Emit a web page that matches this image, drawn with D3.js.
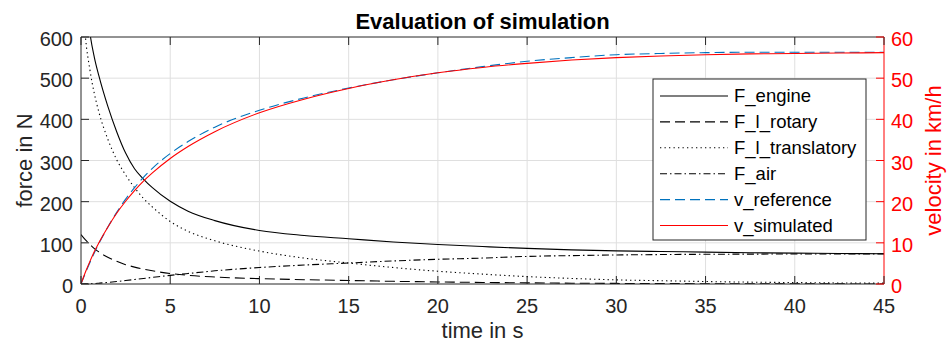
<!DOCTYPE html>
<html>
<head>
<meta charset="utf-8">
<script src="https://cdn.jsdelivr.net/npm/d3@7"></script>
<style>
    body { margin: 0; background: #fff; }
    svg { display: block; font-family: "Liberation Sans", Arial, sans-serif; }
</style>
</head>
<body>
<div id="chart-container"></div>
<script>
// time samples in s
const time = [0, 0.25, 0.5, 0.75, 1, 1.5, 2, 2.5, 3, 3.5, 4, 5, 6, 7.5, 10, 12.5, 15, 17.5, 20, 22.5, 25, 27.5, 30, 32.5, 35, 37.5, 40, 42.5, 45];

// forces in N (left axis)
const fEngine = [880, 715, 610, 550, 506, 432, 370, 318, 280, 255, 234, 201, 177, 154, 130, 118, 110, 102, 96, 91, 86.5, 83, 80.5, 79, 77.5, 76, 75, 74, 73.5];
const fRotary = [120, 107, 96, 86, 78, 65, 55, 47, 41, 36, 32, 25.5, 21, 17, 13, 10.5, 8.5, 6.5, 5, 3.8, 2.8, 2, 1.4, 1, 0.7, 0.5, 0.3, 0.2, 0.1];
const fTranslatory = [760, 600, 520, 462, 418, 352, 302, 265, 234, 208, 187, 152, 128, 105, 80, 63, 51, 40, 31, 24, 18, 13.5, 10, 8, 6, 4.5, 3.5, 2.5, 2];
const fAir = [0, 0.2, 0.6, 1.2, 2, 3.8, 6, 8.5, 11, 13.5, 16, 21, 25.5, 32, 40, 46, 51, 56, 60, 63, 67, 69, 70.5, 71.5, 72.2, 72.6, 72.9, 73.1, 73.3];

// velocities in km/h (right axis)
const vReference = [0, 2.7, 5.2, 7.6, 9.8, 13.8, 17.4, 20.6, 23.4, 25.9, 28.1, 31.7, 34.6, 38.1, 42.2, 45.2, 47.6, 49.6, 51.3, 52.8, 54.1, 55.0, 55.7, 56.0, 56.2, 56.3, 56.3, 56.3, 56.3];
const vSimulated = [0, 2.9, 5.5, 7.9, 10, 13.8, 17.2, 20.1, 22.7, 25, 27, 30.5, 33.4, 37, 41.6, 44.9, 47.5, 49.6, 51.3, 52.6, 53.6, 54.4, 55.0, 55.4, 55.7, 55.9, 56.0, 56.1, 56.2];

const xTicks = [0, 5, 10, 15, 20, 25, 30, 35, 40, 45];
const forceTicks = [0, 100, 200, 300, 400, 500, 600];
const velocityTicks = [0, 10, 20, 30, 40, 50, 60];

const seriesNames = ["F_engine", "F_l_rotary", "F_l_translatory", "F_air", "v_reference", "v_simulated"];

document.addEventListener('DOMContentLoaded', function () {
    drawChart(document.getElementById('chart-container'));
});

function drawChart(container) {
    const width = 947, height = 342;
    const margin = { top: 37, right: 63, bottom: 58, left: 81 };
    const innerW = width - margin.left - margin.right;
    const innerH = height - margin.top - margin.bottom;
    const axisColor = '#262626';
    const gridColor = '#dfdfdf';
    const tickLen = 8;

    const svg = d3.select(container).append('svg')
        .attr('width', width)
        .attr('height', height);

    const x = d3.scaleLinear().domain([0, 45]).range([0, innerW]);
    const yF = d3.scaleLinear().domain([0, 600]).range([innerH, 0]);
    const yV = d3.scaleLinear().domain([0, 60]).range([innerH, 0]);

    svg.append('defs').append('clipPath').attr('id', 'plot-clip')
        .append('rect').attr('width', innerW).attr('height', innerH);

    const g = svg.append('g').attr('transform', `translate(${margin.left},${margin.top})`);

    // grid
    g.append('g').selectAll('line.vgrid').data(xTicks.slice(1, -1)).enter().append('line')
        .attr('x1', d => x(d)).attr('x2', d => x(d))
        .attr('y1', 0).attr('y2', innerH)
        .style('stroke', gridColor).style('stroke-width', 1);
    g.append('g').selectAll('line.hgrid').data(forceTicks.slice(1, -1)).enter().append('line')
        .attr('x1', 0).attr('x2', innerW)
        .attr('y1', d => yF(d)).attr('y2', d => yF(d))
        .style('stroke', gridColor).style('stroke-width', 1);

    // series
    const specs = [
        { values: fEngine, scale: yF, color: '#000', dash: null },
        { values: fRotary, scale: yF, color: '#000', dash: '10,5' },
        { values: fTranslatory, scale: yF, color: '#000', dash: '1.3,3.2' },
        { values: fAir, scale: yF, color: '#000', dash: '7,3,1.5,3' },
        { values: vReference, scale: yV, color: '#0072bd', dash: '10,5' },
        { values: vSimulated, scale: yV, color: '#ff0000', dash: null }
    ];

    const lines = g.append('g').attr('clip-path', 'url(#plot-clip)');
    specs.forEach(s => {
        const line = d3.line()
            .x((d, i) => x(time[i]))
            .y(d => s.scale(d))
            .curve(d3.curveMonotoneX);
        lines.append('path')
            .datum(s.values)
            .attr('d', line)
            .style('fill', 'none')
            .style('stroke', s.color)
            .style('stroke-width', 1.1)
            .style('stroke-dasharray', s.dash);
    });

    // box edges
    g.append('line').attr('x1', 0).attr('x2', innerW).attr('y1', 0).attr('y2', 0)
        .style('stroke', axisColor);
    g.append('line').attr('x1', 0).attr('x2', innerW).attr('y1', innerH).attr('y2', innerH)
        .style('stroke', axisColor);
    g.append('line').attr('x1', 0).attr('x2', 0).attr('y1', 0).attr('y2', innerH)
        .style('stroke', axisColor);
    g.append('line').attr('x1', innerW).attr('x2', innerW).attr('y1', 0).attr('y2', innerH)
        .style('stroke', '#ff0000');

    // x ticks (bottom and top, inward)
    const xt = g.append('g').selectAll('g').data(xTicks).enter().append('g');
    xt.append('line')
        .attr('x1', d => x(d)).attr('x2', d => x(d))
        .attr('y1', innerH).attr('y2', innerH - tickLen)
        .style('stroke', axisColor);
    xt.append('line')
        .attr('x1', d => x(d)).attr('x2', d => x(d))
        .attr('y1', 0).attr('y2', tickLen)
        .style('stroke', axisColor);
    xt.append('text')
        .attr('x', d => x(d)).attr('y', innerH + 29)
        .attr('text-anchor', 'middle')
        .style('font-size', '20px').style('fill', axisColor)
        .text(d => d);

    // left ticks
    const lt = g.append('g').selectAll('g').data(forceTicks).enter().append('g');
    lt.append('line')
        .attr('x1', 0).attr('x2', tickLen)
        .attr('y1', d => yF(d)).attr('y2', d => yF(d))
        .style('stroke', axisColor);
    lt.append('text')
        .attr('x', -8).attr('y', d => yF(d) + 9)
        .attr('text-anchor', 'end')
        .style('font-size', '20px').style('fill', axisColor)
        .text(d => d);

    // right ticks
    const rt = g.append('g').selectAll('g').data(velocityTicks).enter().append('g');
    rt.append('line')
        .attr('x1', innerW).attr('x2', innerW - tickLen)
        .attr('y1', d => yV(d)).attr('y2', d => yV(d))
        .style('stroke', '#ff0000');
    rt.append('text')
        .attr('x', innerW + 7).attr('y', d => yV(d) + 9)
        .attr('text-anchor', 'start')
        .style('font-size', '20px').style('fill', '#ff0000')
        .text(d => d);

    // labels
    svg.append('text')
        .attr('x', margin.left + innerW / 2).attr('y', 29)
        .attr('text-anchor', 'middle')
        .style('font-size', '22px').style('font-weight', 'bold').style('fill', '#000')
        .text('Evaluation of simulation');
    svg.append('text')
        .attr('x', margin.left + innerW / 2).attr('y', 338)
        .attr('text-anchor', 'middle')
        .style('font-size', '22px').style('fill', axisColor)
        .text('time in s');
    svg.append('text')
        .attr('transform', `translate(32,${margin.top + innerH / 2}) rotate(-90)`)
        .attr('text-anchor', 'middle')
        .style('font-size', '22px').style('fill', axisColor)
        .text('force in N');
    svg.append('text')
        .attr('transform', `translate(941,${margin.top + innerH / 2}) rotate(-90)`)
        .attr('text-anchor', 'middle')
        .style('font-size', '22px').style('fill', '#ff0000')
        .text('velocity in km/h');

    // legend
    const legend = svg.append('g').attr('transform', 'translate(653,79)');
    legend.append('rect')
        .attr('width', 213).attr('height', 161)
        .style('fill', '#fff').style('stroke', axisColor).style('stroke-width', 1);
    seriesNames.forEach((name, i) => {
        const ly = 17 + i * 25.9;
        legend.append('line')
            .attr('x1', 7).attr('x2', 75).attr('y1', ly).attr('y2', ly)
            .style('stroke', specs[i].color)
            .style('stroke-width', 1.1)
            .style('stroke-dasharray', specs[i].dash);
        legend.append('text')
            .attr('x', 81).attr('y', ly).attr('dy', '0.35em')
            .style('font-size', '18.5px').style('fill', '#000')
            .text(name);
    });
}
</script>
</body>
</html>
